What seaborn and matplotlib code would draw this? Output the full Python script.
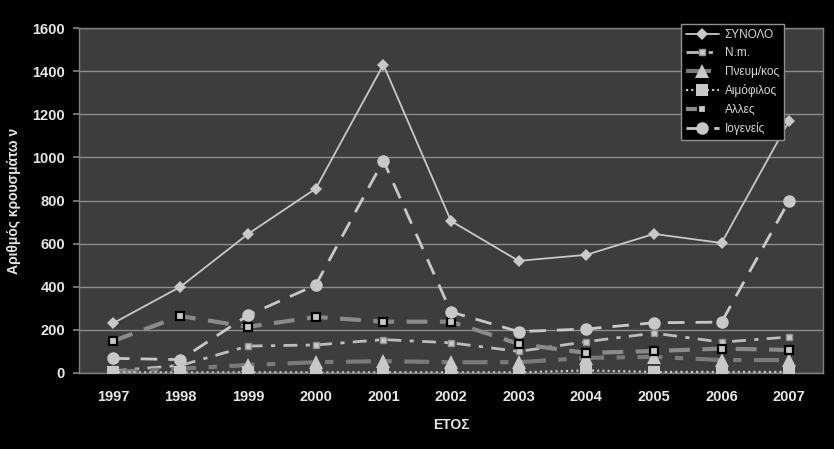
import matplotlib
matplotlib.use("Agg")
import matplotlib.pyplot as plt
import seaborn as sns
import numpy as np
import pandas as pd

years = ["1997", "1998", "1999", "2000", "2001", "2002", "2003", "2004", "2005", "2006", "2007"]
synolo = [230, 400, 645, 855, 1430, 705, 520, 548, 645, 603, 1170]
nm = [10, 35, 125, 130, 155, 140, 100, 145, 185, 143, 167]
pneum = [5, 20, 37, 50, 55, 50, 50, 70, 75, 60, 60]
aimofilos = [3, 3, 3, 3, 3, 3, 3, 12, 5, 5, 5]
alles = [148, 264, 214, 260, 238, 238, 135, 93, 102, 113, 107]
iogeneis = [68, 62, 268, 408, 985, 283, 192, 204, 233, 236, 800]
labels = ["ΣΥΝΟΛΟ", "N.m.", "Πνευμ/κος", "Αιμόφιλος", "Αλλες", "Ιογενείς"]
yticks = [0, 200, 400, 600, 800, 1000, 1200, 1400, 1600]

sns.set_theme(style="white")
plt.rcParams["font.family"] = ["Liberation Sans", "DejaVu Sans"]

fig = plt.figure(figsize=(8.34, 4.49), dpi=100, facecolor="black")
ax = fig.add_axes([79/834, 1-373/449, (823-79)/834, (373-28)/449])
ax.set_facecolor("#3d3d3d")

x = np.arange(len(years))
light = "#c8c8c8"

styles = [
    dict(data=synolo, color=light, lw=1.3, ls="-", marker="D", ms=6, mfc=light, mec=light, mew=0),
    dict(data=nm, color="#bcbcbc", lw=2.0, ls=(0, (5, 3, 1.5, 3)), marker="s", ms=5, mfc=light, mec="#909090", mew=1),
    dict(data=pneum, color="#7a7a7a", lw=3.0, ls=(0, (6, 3, 2, 3)), marker="^", ms=10, mfc=light, mec=light, mew=0),
    dict(data=aimofilos, color="#d0d0d0", lw=1.5, ls=(0, (1, 1.5)), marker="s", ms=9, mfc=light, mec=light, mew=0),
    dict(data=alles, color="#8a8a8a", lw=3.0, ls=(0, (5, 3)), marker="s", ms=5.5, mfc=light, mec="black", mew=1.6),
    dict(data=iogeneis, color=light, lw=2.0, ls=(0, (6, 4)), marker="o", ms=9, mfc=light, mec=light, mew=0),
]

for lab, st in zip(labels, styles):
    df = pd.DataFrame({"x": x, "y": st["data"]})
    sns.lineplot(data=df, x="x", y="y", ax=ax, color=st["color"], linewidth=st["lw"],
                 linestyle=st["ls"], marker=st["marker"], markersize=st["ms"],
                 markerfacecolor=st["mfc"], markeredgecolor=st["mec"], markeredgewidth=st["mew"],
                 label=lab, zorder=3)

ax.set_xlim(-0.5, len(years) - 0.5)
ax.set_ylim(0, 1600)
ax.set_yticks(yticks)
ax.set_yticklabels([str(v) for v in yticks])
ax.set_xticks(x)
ax.set_xticklabels(years)
ax.set_xticks(np.arange(-0.5, len(years), 1), minor=True)
ax.grid(axis="y", color="#8c8c8c", lw=1)
ax.set_axisbelow(True)
for s in ax.spines.values():
    s.set_color("#808080")
    s.set_linewidth(1)
ax.tick_params(axis="x", which="major", length=0, pad=12, labelcolor="#e6e6e6", labelsize=10.5)
ax.tick_params(axis="x", which="minor", length=4, color="#808080", direction="out")
ax.tick_params(axis="y", which="major", length=4, color="#808080", direction="out", left=True,
               labelcolor="#e6e6e6", labelsize=10.5, pad=6)
for t in ax.get_xticklabels() + ax.get_yticklabels():
    t.set_fontweight("bold")

ax.set_xlabel("ΕΤΟΣ", color="#e6e6e6", fontsize=10, fontweight="bold", labelpad=10)
ax.set_ylabel("Αριθμός κρουσμάτω ν", color="#e6e6e6", fontsize=10, fontweight="bold", labelpad=8)

leg = ax.legend(loc="upper left", bbox_to_anchor=(681/834, 1-24/449), bbox_transform=fig.transFigure,
                borderaxespad=0, frameon=True, fancybox=False, fontsize=8.5, handlelength=2.8,
                labelspacing=0.55, borderpad=0.4, handletextpad=0.5)
leg.get_frame().set_facecolor("black")
leg.get_frame().set_edgecolor("#909090")
leg.get_frame().set_alpha(1)
for t in leg.get_texts():
    t.set_color("#d8d8d8")

fig.savefig("out.png", dpi=100, facecolor="black")
